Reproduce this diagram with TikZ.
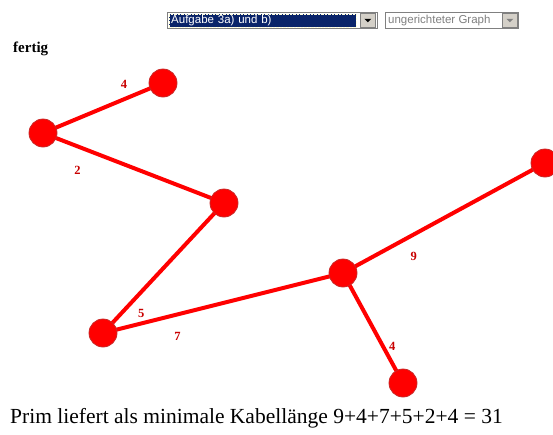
\documentclass[tikz,border=0pt]{standalone}
\usepackage{fontspec}
\setmainfont{Liberation Serif}
\setsansfont{Liberation Sans}
\usepackage{tikz}
\usetikzlibrary{positioning,backgrounds}
\definecolor{menublue}{HTML}{0A246A}
\definecolor{btngray}{HTML}{D4D0C8}
\definecolor{framegray}{HTML}{808080}
\definecolor{weightred}{HTML}{C80000}
\definecolor{rimred}{HTML}{C82828}

\begin{document}
\begin{tikzpicture}[
    x=1pt, y=-1pt,
    vertex/.style={circle, draw=rimred, fill=red, line width=0.8pt, minimum size=28pt, inner sep=0pt},
    edge/.style={draw=red, line width=4pt},
    weight/.style={text=weightred, font=\fontsize{12.5}{12.5}\selectfont\bfseries, inner sep=0pt},
    menubox/.style={draw=framegray, line width=1.2pt, fill=white, minimum height=16pt, inner sep=0pt, anchor=north west},
    menubtn/.style={draw=framegray, line width=0.6pt, fill=btngray, minimum width=15pt, minimum height=14pt, inner sep=0pt, anchor=north west},
    menutext/.style={font=\sffamily\fontsize{11.5}{12}\selectfont, inner xsep=2pt, inner ysep=0pt, minimum height=13pt, anchor=north west, align=left}
]
\useasboundingbox (0,0) rectangle (553,434);
\clip (0,0) rectangle (553,434);

% Menus
\node[menubox, minimum width=210pt] (taskmenu) at (167,12) {};
\node[menutext, fill=menublue, text=white, text width=183pt, draw=white!85!yellow, densely dotted] (tasksel) at (169,14) {Aufgabe 3a) und b)};
\node[menubtn] (taskbtn) at (360,13) {};
\fill (taskbtn.center) +(-3.5,-1.5) -- +(3.5,-1.5) -- +(0,2) -- cycle;

\node[menubox, minimum width=133pt] (kindmenu) at (385,12) {};
\node[menutext, text=framegray] (kindsel) at (386,14) {ungerichteter Graph};
\node[menubtn] (kindbtn) at (502,13) {};
\fill[framegray] (kindbtn.center) +(-3.5,-1.5) -- +(3.5,-1.5) -- +(0,2) -- cycle;

% Status
\node[anchor=base west, inner sep=0pt, font=\fontsize{15}{15}\selectfont\bfseries] (status) at (13,52) {fertig};

% Vertices
\node[vertex] (a) at (163,83) {};
\node[vertex] (b) at (43,133) {};
\node[vertex] (c) at (224,203) {};
\node[vertex] (d) at (103,333) {};
\node[vertex] (e) at (343,273) {};
\node[vertex] (f) at (545,163) {};
\node[vertex] (g) at (403,383) {};

% Spanning tree edges
\begin{scope}[on background layer]
\draw[edge] (b.center) -- (a.center) node[weight, pos=.675, yshift=15pt] {4};
\draw[edge] (b.center) -- (c.center) node[weight, pos=.19, yshift=-24pt] {2};
\draw[edge] (c.center) -- (d.center) node[weight, pos=.85, xshift=20pt] {5};
\draw[edge] (d.center) -- (e.center) node[weight, pos=.31, yshift=-22pt] {7};
\draw[edge] (e.center) -- (f.center) node[weight, pos=.35, yshift=-22pt] {9};
\draw[edge] (e.center) -- (g.center) node[weight, pos=.67, xshift=9pt] {4};
\end{scope}

% Result
\node[anchor=base west, inner sep=0pt, font=\fontsize{21.5}{22}\selectfont] (result) at (10,423) {Prim liefert als minimale Kabellänge 9+4+7+5+2+4 = 31};

\end{tikzpicture}
\end{document}
